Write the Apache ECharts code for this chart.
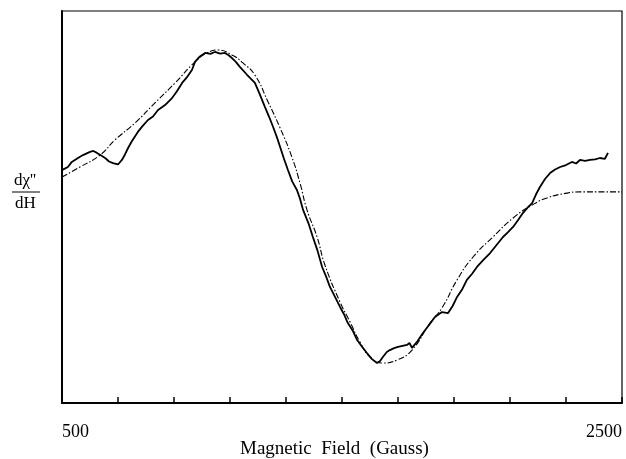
<!DOCTYPE html>
<html>
<head>
<meta charset="utf-8">
<script src="https://cdn.jsdelivr.net/npm/echarts@6/dist/echarts.min.js"></script>
<style>
html,body{margin:0;padding:0;background:#fff;}
#chart{width:626px;height:459px;}
</style>
</head>
<body>
<div id="chart"></div>
<script>
// Magnetic field (Gauss) and dχ''/dH (arbitrary units) — experimental trace
var expField = [500,510,521,535,557,575,600,612,625,640,654,668,682,700,714,725,736,750,771,786,807,825,843,868,893,910,929,945,964,975,990,1011,1030,1046,1065,1082,1095,1107,1120,1136,1160,1189,1205,1225,1240,1254,1268,1279,1293,1307,1322,1339,1350,1361,1380,1396,1412,1429,1443,1457,1475,1493,1507,1521,1538,1554,1571,1589,1607,1625,1636,1646,1660,1671,1686,1700,1716,1732,1741,1750,1770,1789,1811,1832,1857,1879,1895,1911,1930,1946,1964,1982,2005,2029,2052,2075,2093,2111,2129,2146,2162,2179,2193,2207,2225,2243,2261,2279,2300,2321,2336,2350,2368,2386,2404,2421,2439,2450];
var expValue = [18.9,19.6,20.4,23.0,25.0,26.5,28.1,28.6,27.6,26.3,25.0,23.2,22.4,21.7,24.0,26.8,30.1,33.7,38.3,41.0,44.4,46.2,49.5,52.0,55.6,58.9,63.3,66.0,69.9,74.0,76.5,78.6,78.1,79.1,78.3,78.6,77.4,76.0,74.2,71.4,67.6,63.3,58.0,51.0,45.9,40.8,35.4,30.6,24.5,18.9,13.1,8.7,4.2,-1.5,-8.2,-15.3,-22.0,-30.6,-35.4,-40.8,-45.9,-51.0,-54.7,-59.2,-63.0,-67.9,-71.2,-74.5,-77.6,-79.6,-78.6,-76.5,-74.0,-73.0,-72.0,-71.4,-70.9,-70.4,-69.4,-71.9,-68.4,-64.3,-60.2,-56.1,-53.6,-54.1,-50.5,-45.9,-41.8,-37.2,-34.2,-30.6,-27.0,-23.5,-19.4,-15.3,-12.8,-10.2,-6.6,-3.1,-0.5,2.0,6.5,10.2,14.3,17.3,19.1,20.4,21.4,23.0,22.2,24.0,23.5,24.0,24.3,25.0,24.6,27.6];
// fitted curve
var fitField = [500,564,636,689,761,832,904,975,1018,1057,1107,1146,1189,1236,1279,1321,1350,1375,1411,1439,1493,1529,1564,1600,1646,1696,1750,1814,1857,1911,1968,2039,2111,2179,2232,2304,2350,2500];
var fitValue = [15.3,20.4,26.5,34.2,42.9,53.1,63.3,74.0,78.6,80.1,77.6,73.5,67.3,53.6,40.3,25.5,12.2,-1.5,-15.3,-29.6,-48.5,-58.7,-68.9,-76.5,-79.6,-78.1,-73.0,-59.2,-51.5,-37.2,-25.5,-15.3,-5.6,1.0,4.6,7.1,7.7,7.7];
var shownTicks = [500, 2500];

function pairs(xs, ys){ return xs.map(function(x,i){ return [x, ys[i]]; }); }

var chart = echarts.init(document.getElementById('chart'), null, {renderer:'canvas'});
var serif = '"Liberation Serif", "DejaVu Serif", serif';
chart.setOption({
  animation: false,
  backgroundColor: '#fff',
  grid: {left: 62, right: 4, top: 11, bottom: 56, show: true, borderColor: '#000', borderWidth: 1.2},
  xAxis: {
    type: 'value', min: 500, max: 2500, interval: 200,
    axisLine: {show: true, onZero: false, lineStyle: {color: '#000', width: 2}},
    axisTick: {show: true, inside: true, length: 6, lineStyle: {color: '#000', width: 1.5}},
    axisLabel: {
      show: true, margin: 20, color: '#000', fontFamily: serif, fontSize: 18,
      alignMinLabel: 'left', alignMaxLabel: 'right',
      formatter: function(v){ return shownTicks.indexOf(v) >= 0 ? String(v) : ''; }
    },
    splitLine: {show: false}
  },
  yAxis: {
    type: 'value', min: -100, max: 100,
    axisLine: {show: true, onZero: false, lineStyle: {color: '#000', width: 2}},
    axisTick: {show: false}, axisLabel: {show: false}, splitLine: {show: false}
  },
  graphic: [
    {type: 'text', left: 14, top: 172, style: {text: "dχ''", font: '17px ' + serif, fill: '#000'}},
    {type: 'line', shape: {x1: 12, y1: 192, x2: 40, y2: 192}, style: {stroke: '#000', lineWidth: 1}},
    {type: 'text', left: 15, top: 195, style: {text: 'dH', font: '17px ' + serif, fill: '#000'}},
    {type: 'text', left: 240, top: 440, style: {text: 'Magnetic  Field  (Gauss)', font: '19px ' + serif, fill: '#000'}}
  ],
  series: [
    {type: 'line', data: pairs(fitField, fitValue), smooth: 0.5, symbol: 'none',
     lineStyle: {color: '#000', width: 1.1, type: [6, 2, 1.5, 2]}, z: 2},
    {type: 'line', data: pairs(expField, expValue), smooth: false, symbol: 'none',
     lineStyle: {color: '#000', width: 1.8}, z: 3}
  ]
});
</script>
</body>
</html>
